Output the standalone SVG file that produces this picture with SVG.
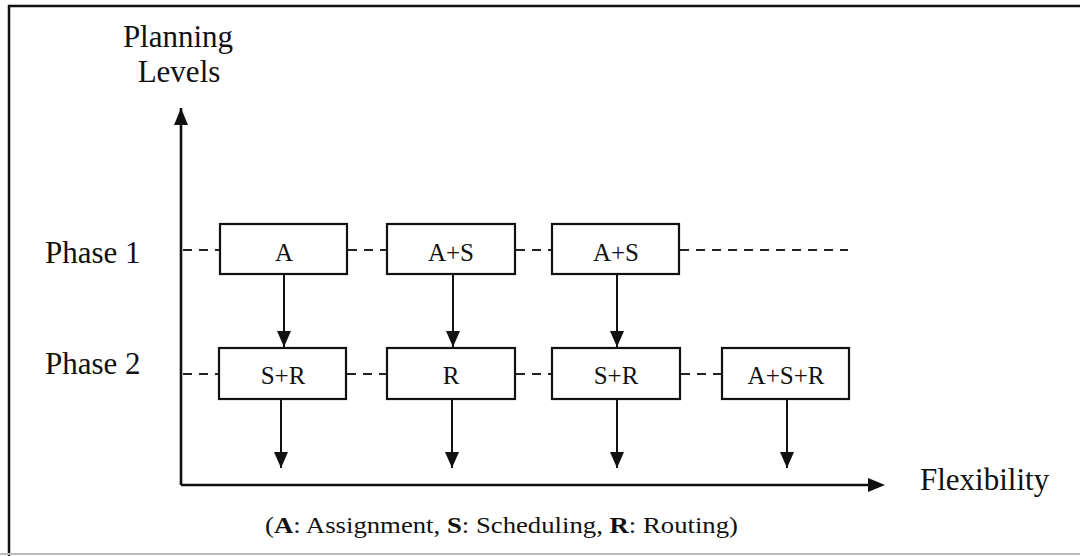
<svg xmlns="http://www.w3.org/2000/svg" width="1080" height="556" viewBox="0 0 1080 556">
<style>
text{font-family:"Liberation Serif","Times New Roman",serif;fill:#111}
.lbl{font-size:31px}
.box rect{fill:#fff;stroke:#111;stroke-width:2.2}
.box text{font-size:25px;text-anchor:middle}
.dash{stroke:#222;stroke-width:2;stroke-dasharray:9,7;fill:none}
.arr{stroke:#111;stroke-width:2;fill:none;marker-end:url(#ah)}
.axis{stroke:#111;stroke-width:2.6;fill:none}
</style>
<defs>
<marker id="ah" markerWidth="16" markerHeight="14" refX="16" refY="7" orient="auto" markerUnits="userSpaceOnUse" viewBox="0 0 16 14">
<path d="M0,0 L16,7 L0,14 Z" fill="#111"/>
</marker>
</defs>
<rect width="1080" height="556" fill="#fff"/>
<g id="frame">
<path d="M9,556 L9,6 L1080,6" stroke="#111" stroke-width="2.5" fill="none"/>
<path d="M0,554 L1080,554" stroke="#bbb" stroke-width="2" fill="none"/>
</g>
<g id="labels">
<text class="lbl" x="178" y="47" text-anchor="middle">Planning</text>
<text class="lbl" x="179" y="82" text-anchor="middle">Levels</text>
<text class="lbl" x="45" y="263">Phase 1</text>
<text class="lbl" x="45" y="374">Phase 2</text>
<text class="lbl" x="920" y="490">Flexibility</text>
<text x="265" y="533" style="font-size:24px" textLength="473" lengthAdjust="spacingAndGlyphs">(<tspan font-weight="bold">A</tspan>: Assignment, <tspan font-weight="bold">S</tspan>: Scheduling, <tspan font-weight="bold">R</tspan>: Routing)</text>
</g>
<g id="connectors">
<path class="axis" d="M181,485 L181,108"/>
<path d="M174,125 L181,108 L188,125 Z" fill="#111"/>
<path class="axis" d="M181,485 L870,485"/>
<path d="M868,478 L885,485 L868,492 Z" fill="#111"/>
<path class="dash" d="M183,250 L219,250 M348,250 L387,250 M516,250 L552,250 M680,250 L848,250"/>
<path class="dash" d="M183,374 L219,374 M347,374 L387,374 M516,374 L552,374 M681,374 L722,374"/>
<path class="arr" d="M284,275 L284,347"/>
<path class="arr" d="M453,275 L453,347"/>
<path class="arr" d="M617,275 L617,347"/>
<path class="arr" d="M281,400 L281,468"/>
<path class="arr" d="M452,400 L452,468"/>
<path class="arr" d="M617,400 L617,468"/>
<path class="arr" d="M787,400 L787,468"/>
</g>
<g id="n1" class="box"><rect x="220" y="224" width="127" height="50"/><text x="284" y="261">A</text></g>
<g id="n2" class="box"><rect x="387" y="224" width="128" height="50"/><text x="451" y="261">A+S</text></g>
<g id="n3" class="box"><rect x="552" y="224" width="127" height="50"/><text x="616" y="261">A+S</text></g>
<g id="n4" class="box"><rect x="219" y="348" width="127" height="51"/><text x="283" y="384">S+R</text></g>
<g id="n5" class="box"><rect x="387" y="348" width="128" height="51"/><text x="451" y="384">R</text></g>
<g id="n6" class="box"><rect x="552" y="348" width="128" height="51"/><text x="616" y="384">S+R</text></g>
<g id="n7" class="box"><rect x="722" y="348" width="127" height="51"/><text x="786" y="384">A+S+R</text></g>
</svg>
